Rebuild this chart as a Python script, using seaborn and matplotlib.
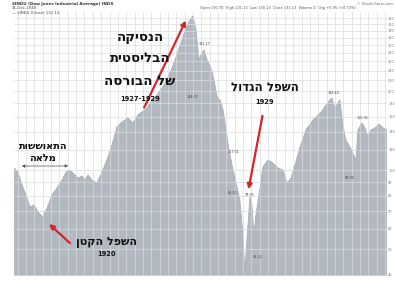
import numpy as np
import pandas as pd
import matplotlib
matplotlib.use("Agg")
import matplotlib.pyplot as plt
import matplotlib.ticker as mticker
import seaborn as sns

# ---- data (Dow Jones Industrial Average, log scale) ----
years = [1918.28, 1918.52, 1918.76, 1919.00, 1919.24, 1919.48, 1919.72, 1920.00,
         1920.26, 1920.56, 1920.86, 1921.16, 1921.40, 1921.63, 1921.81, 1922.11,
         1922.35, 1922.53, 1922.71, 1922.95, 1923.25, 1923.55, 1923.85, 1924.15,
         1924.45, 1924.75, 1925.10, 1925.40, 1925.70, 1925.95, 1926.25, 1926.55,
         1926.84, 1927.14, 1927.44, 1927.74, 1928.04, 1928.34, 1928.58, 1928.82,
         1929.00, 1929.18, 1929.36, 1929.48, 1929.66, 1929.84, 1930.08, 1930.26,
         1930.44, 1930.62, 1930.80, 1930.98, 1931.16, 1931.40, 1931.64, 1931.81,
         1931.99, 1932.11, 1932.23, 1932.41, 1932.53, 1932.65, 1932.77, 1932.95,
         1933.19, 1933.49, 1933.79, 1934.09, 1934.39, 1934.63, 1934.87, 1935.11,
         1935.41, 1935.77, 1936.19, 1936.49, 1936.78, 1937.08, 1937.32, 1937.50,
         1937.80, 1937.98, 1938.16, 1938.40, 1938.58, 1938.76, 1938.88, 1939.12,
         1939.30, 1939.48, 1939.66, 1939.90, 1940.14, 1940.38, 1940.62]
close = [102.1, 98.6, 88.0, 80.6, 72.5, 73.9, 69.4, 66.4,
         71.9, 80.6, 85.7, 91.9, 98.6, 100.3, 97.7, 93.5,
         95.2, 91.9, 96.0, 91.9, 89.5, 98.6, 109.5, 125.0,
         146.4, 152.9, 158.3, 151.6, 162.6, 166.9, 172.9, 185.4,
         193.8, 206.1, 221.1, 245.6, 275.3, 314.1, 348.8, 374.1,
         387.5, 342.8, 263.5, 275.3, 287.6, 263.5, 245.6, 221.1,
         190.4, 185.4, 169.9, 142.6, 119.6, 100.3, 86.4, 77.1,
         56.7, 41.0, 54.3, 79.2, 73.9, 56.7, 67.6, 80.6,
         103.0, 109.5, 106.7, 102.1, 100.3, 89.5, 93.5, 104.9,
         122.8, 142.6, 155.6, 162.6, 169.9, 182.2, 188.8, 172.9,
         185.4, 148.9, 130.6, 122.8, 116.5, 109.5, 142.6, 151.6,
         145.1, 134.0, 142.6, 145.1, 150.2, 145.1, 142.6]

axis_ticks = [40, 50, 60, 70, 80, 90, 100, 120, 140, 160, 180, 200, 220, 240,
              260, 280, 300, 320, 340, 360, 380]

df = pd.DataFrame({"year": years, "close": close})

sns.set_theme(style="white")
plt.rcParams['font.family'] = ['DejaVu Sans']

fig = plt.figure(figsize=(3.95, 2.81), dpi=100)
ax = fig.add_axes([14 / 395, 5 / 281, 373 / 395, 264 / 281])

area_col = "#b3b9c0"
ax.fill_between(df["year"], 10, df["close"], color=area_col, linewidth=0, zorder=1)
sns.lineplot(data=df, x="year", y="close", ax=ax, color="#a9afb6", linewidth=0.6, zorder=2)

ax.set_yscale("log")
ax.set_ylim(39.6, 401)
ax.set_xlim(1918.28, 1940.62)

ax.xaxis.set_major_locator(mticker.MultipleLocator(0.5))
ax.yaxis.set_major_locator(mticker.FixedLocator(axis_ticks))
ax.yaxis.set_minor_locator(mticker.NullLocator())
ax.yaxis.set_major_formatter(mticker.FuncFormatter(lambda v, p: f"{v:.0f}"))
ax.yaxis.tick_right()
ax.tick_params(axis="y", labelsize=2.5, colors="#777777", length=0, pad=0.8)
ax.tick_params(axis="x", labelbottom=False, length=0)
ax.set_xlabel("")
ax.set_ylabel("")
ax.grid(True, color="#d9dcdf", linewidth=0.5, zorder=3)
ax.set_axisbelow(False)
for s in ax.spines.values():
    s.set_visible(False)

# header
fig.text(12 / 395, 1 - 4 / 281, "$INDU (Dow Jones Industrial Average) INDX", fontsize=3,
         color="#333333", va="center", weight="bold")
fig.text(12 / 395, 1 - 8 / 281, "31-Dec-1940", fontsize=2.8, color="#444444", va="center")
fig.text(12 / 395, 1 - 12 / 281, "— $INDU (Close) 131.13", fontsize=2.8, color="#444444", va="center")
fig.text(200 / 395, 1 - 8 / 281,
         "Open 130.70  High 131.13  Low 130.13  Close 131.13  Volume 0  Chg +0.95 (+0.73%)",
         fontsize=2.6, color="#555555", va="center")
fig.text(393 / 395, 1 - 4 / 281, "© StockCharts.com", fontsize=2.6, color="#666666",
         va="center", ha="right")

# small value labels on the chart
def px(x, y):
    return (x / 395, 1 - y / 281)

for (x, y, t) in [(205, 44, "381.17"), (193, 97, "294.07"), (233, 152, "157.51"),
                  (233, 193, "85.51"), (250, 195, "79.93"), (258, 257, "41.22"),
                  (333, 93, "194.40"), (362, 118, "155.92"), (350, 178, "98.95")]:
    fig.text(*px(x, y), t, fontsize=2.4, color="#444444", ha="center", va="center")

def heb(s):
    return s[::-1]

def t(x, y, s, size, w="bold"):
    fig.text(*px(x, y), s, fontsize=size, weight=w, color="#111111",
             ha="center", va="center")

red = "#d8232a"

# ballistic rise
t(140, 38, heb("הנסיקה"), 9.5)
t(140, 59, heb("הבליסטית"), 9.5)
t(140, 81, heb("של הבורסה"), 9.5)
t(140, 99, "1927-1929", 4.8)
fig.add_artist(matplotlib.patches.FancyArrowPatch(
    px(143, 110), px(187, 18), transform=fig.transFigure,
    arrowstyle="-|>", mutation_scale=7, color=red, linewidth=1.6))

# great depression bottom
t(265, 87, heb("השפל הגדול"), 8.5)
t(265, 102, "1929", 4.8)
fig.add_artist(matplotlib.patches.FancyArrowPatch(
    px(263, 113), px(248, 192), transform=fig.transFigure,
    arrowstyle="-|>", mutation_scale=7, color=red, linewidth=1.6))

# small bottom
t(107, 242, heb("השפל הקטן"), 8)
t(107, 254, "1920", 4.8)
fig.add_artist(matplotlib.patches.FancyArrowPatch(
    px(72, 245), px(47, 222), transform=fig.transFigure,
    arrowstyle="-|>", mutation_scale=7, color=red, linewidth=1.6))

# full recovery
t(43, 146, heb("התאוששות"), 7)
t(43, 158, heb("מלאה"), 7)
fig.add_artist(matplotlib.patches.FancyArrowPatch(
    px(19, 166), px(71, 166), transform=fig.transFigure,
    arrowstyle="<|-|>", mutation_scale=4, color="#555555", linewidth=0.6,
    linestyle=(0, (1.5, 1))))

fig.savefig("out.png", dpi=100, facecolor="white")
